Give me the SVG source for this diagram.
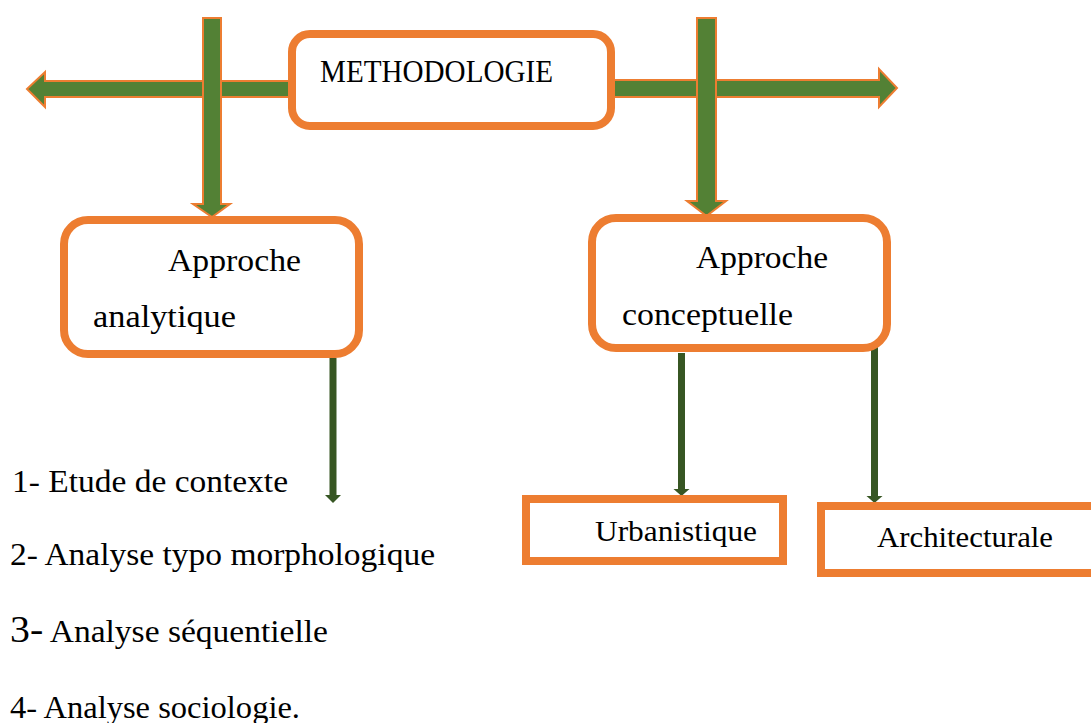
<svg xmlns="http://www.w3.org/2000/svg" width="1091" height="723" viewBox="0 0 1091 723">
<style>
.bigarrow{fill:#538135;stroke:#ED7D31;stroke-width:2;stroke-linejoin:miter}
.rbox{fill:#ffffff;stroke:#ED7D31;stroke-width:8}
.conn{fill:#375623;stroke:none}
.t{font-family:"Liberation Serif","Times New Roman",serif;font-size:32px;fill:#000}
</style>
<rect width="1091" height="723" fill="#ffffff"/>
<g id="connectors">
<polygon class="bigarrow" points="27,89 45,72 45,81 292,81 292,97 45,97 45,107"/>
<polygon class="bigarrow" points="611,80 879,80 879,69 897,88 879,107 879,97 611,97"/>
</g>
<g id="methodologie">
<rect class="rbox" x="292" y="34" width="319" height="92" rx="18"/>
<text class="t" x="320" y="82" textLength="233" lengthAdjust="spacingAndGlyphs">METHODOLOGIE</text>
</g>
<g id="connectors-down">
<polygon class="bigarrow" points="203,18 221,18 221,204 230,204 212,217 193,204 203,204"/>
<polygon class="bigarrow" points="697,18 716,18 716,201 726,201 706.5,216 687,201 697,201"/>
<polygon class="conn" points="329.5,358 336.5,358 336.5,495 341,495 333,503 325,495 329.5,495"/>
<polygon class="conn" points="678,353 685,353 685,489 689.5,489 681.5,496 673.5,489 678,489"/>
<polygon class="conn" points="871,347 878,347 878,496 882.5,496 874.5,503 866.5,496 871,496"/>
</g>
<g id="approche-analytique">
<rect class="rbox" x="64" y="220" width="295" height="134" rx="24"/>
<text class="t" x="168" y="271" textLength="133" lengthAdjust="spacingAndGlyphs">Approche</text>
<text class="t" x="93" y="327" textLength="143" lengthAdjust="spacingAndGlyphs">analytique</text>
</g>
<g id="approche-conceptuelle">
<rect class="rbox" x="592" y="218" width="295" height="130" rx="24"/>
<text class="t" x="696" y="268" textLength="132" lengthAdjust="spacingAndGlyphs">Approche</text>
<text class="t" x="622" y="325" textLength="171" lengthAdjust="spacingAndGlyphs">conceptuelle</text>
</g>
<g id="urbanistique">
<rect class="rbox" x="526" y="499" width="257" height="62"/>
<text class="t" x="595" y="541" style="font-size:29px" textLength="162" lengthAdjust="spacingAndGlyphs">Urbanistique</text>
</g>
<g id="architecturale">
<rect class="rbox" x="821" y="506" width="280" height="67"/>
<text class="t" x="877" y="547" style="font-size:29px" textLength="176" lengthAdjust="spacingAndGlyphs">Architecturale</text>
</g>
<g id="liste">
<text class="t" x="12" y="492" textLength="276" lengthAdjust="spacingAndGlyphs">1- Etude de contexte</text>
<text class="t" x="10" y="565" textLength="425" lengthAdjust="spacingAndGlyphs">2- Analyse typo morphologique</text>
<text class="t" x="10" y="642" textLength="318" lengthAdjust="spacingAndGlyphs"><tspan style="font-size:38px">3-</tspan> Analyse séquentielle</text>
<text class="t" x="10" y="718" textLength="290" lengthAdjust="spacingAndGlyphs">4- Analyse sociologie.</text>
</g>
</svg>
